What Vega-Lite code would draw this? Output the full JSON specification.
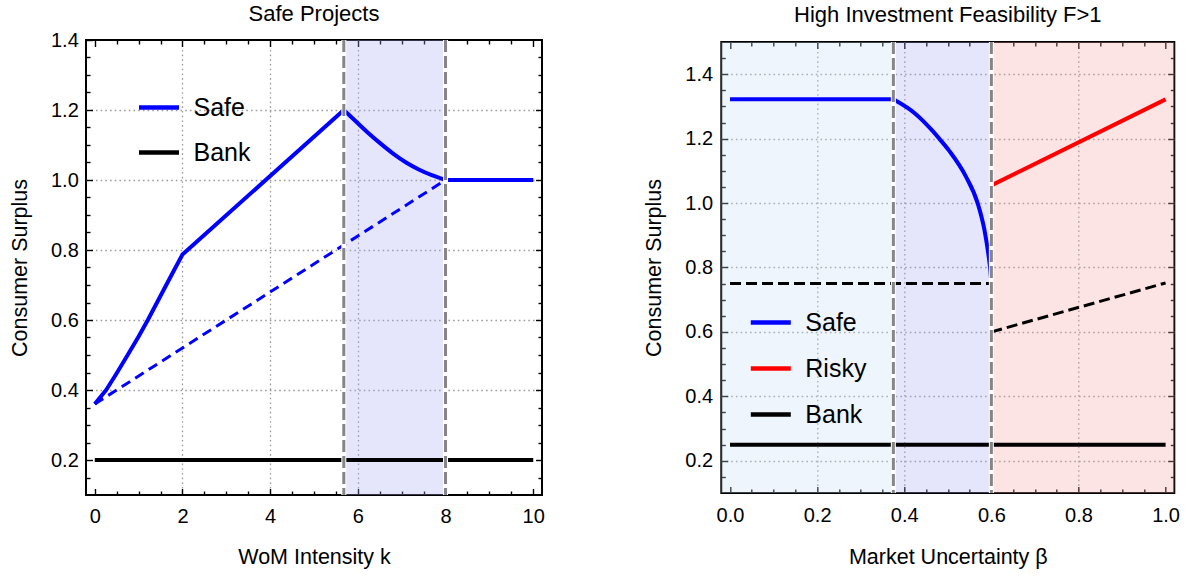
{
  "$schema": "https://vega.github.io/schema/vega-lite/v6.json",
  "background": "white",
  "padding": {"left": 8, "top": 2, "right": 5, "bottom": 5},
  "spacing": 179.3,
  "bounds": "flush",
  "center": true,
  "resolve": {"scale": {"color": "independent"}, "legend": {"color": "independent"}},
  "config": {
    "font": "Liberation Sans",
    "view": {"stroke": "#000000", "strokeWidth": 2},
    "axis": {
      "domain": false,
      "labelFont": "Liberation Sans",
      "labelFontSize": 20,
      "labelColor": "#000000",
      "titleFont": "Liberation Sans",
      "titleFontSize": 21.5,
      "titleFontWeight": "normal",
      "titleColor": "#000000",
      "tickColor": "#000000",
      "tickWidth": 1.4,
      "gridColor": "#9c9c9c",
      "gridDash": [1.6, 3.1],
      "gridWidth": 1.3
    },
    "title": {"font": "Liberation Sans", "fontSize": 22, "fontWeight": "normal", "color": "#000000", "anchor": "middle", "frame": "group"},
    "legend": {"labelFont": "Liberation Sans", "labelColor": "#000000"}
  },
  "hconcat": [
    {
      "width": 456,
      "height": 455,
      "title": {"text": "Safe Projects", "offset": 3.7},
      "resolve": {"axis": {"x": "independent", "y": "independent"}},
      "layer": [
        {
          "data": {"values": [{"k_start": 5.68, "k_end": 8}]},
          "mark": {"type": "rect", "color": "#a8a8f2", "opacity": 0.3},
          "encoding": {
            "x": {"field": "k_start", "type": "quantitative", "axis": null, "scale": {"domain": [-0.2, 10.2], "nice": false, "zero": false}},
            "x2": {"field": "k_end"}
          }
        },
        {
          "data": {"values": [{"k": 0, "cs": 0.36}, {"k": 8, "cs": 1.0}]},
          "mark": {"type": "line", "color": "#0000ff", "strokeWidth": 3, "strokeDash": [10, 6]},
          "encoding": {
            "x": {"field": "k", "type": "quantitative", "axis": {"orient": "top", "values": [0, 2, 4, 6, 8, 10], "tickSize": -6.5, "labels": false, "title": null, "grid": false}},
            "y": {"field": "cs", "type": "quantitative", "scale": {"domain": [0.1, 1.4], "nice": false, "zero": false}, "axis": {"orient": "right", "values": [0.2, 0.4, 0.6, 0.8, 1.0, 1.2], "tickSize": -6.5, "labels": false, "title": null, "grid": false}}
          }
        },
        {
          "data": {"values": [{"k": 0, "cs": 0.2, "series": "Bank"}, {"k": 10, "cs": 0.2, "series": "Bank"}]},
          "mark": {"type": "line", "strokeWidth": 4},
          "encoding": {
            "x": {"field": "k", "type": "quantitative", "axis": {"orient": "top", "values": [0.5, 1, 1.5, 2.5, 3, 3.5, 4.5, 5, 5.5, 6.5, 7, 7.5, 8.5, 9, 9.5], "tickSize": -4, "labels": false, "title": null, "grid": false}},
            "y": {"field": "cs", "type": "quantitative", "axis": {"orient": "right", "values": [0.15, 0.25, 0.3, 0.35, 0.45, 0.5, 0.55, 0.65, 0.7, 0.75, 0.85, 0.9, 0.95, 1.05, 1.1, 1.15, 1.25, 1.3, 1.35], "tickSize": -4, "labels": false, "title": null, "grid": false}},
            "color": {"field": "series", "type": "nominal", "scale": {"domain": ["Safe", "Bank"], "range": ["#0000ff", "#000000"]}, "legend": {"orient": "none", "legendX": 50.5, "legendY": 45, "title": null, "symbolType": "stroke", "symbolSize": 1600, "symbolStrokeWidth": 4.5, "labelFontSize": 25, "labelOffset": 12, "rowPadding": 9}}
          }
        },
        {
          "data": {"values": [
            {"k": 0, "cs": 0.36, "series": "Safe"},
            {"k": 0.26, "cs": 0.4, "series": "Safe"},
            {"k": 0.5, "cs": 0.448, "series": "Safe"},
            {"k": 0.75, "cs": 0.5, "series": "Safe"},
            {"k": 1.0, "cs": 0.553, "series": "Safe"},
            {"k": 1.21, "cs": 0.6, "series": "Safe"},
            {"k": 1.42, "cs": 0.65, "series": "Safe"},
            {"k": 1.63, "cs": 0.7, "series": "Safe"},
            {"k": 1.82, "cs": 0.745, "series": "Safe"},
            {"k": 2.0, "cs": 0.787, "series": "Safe"},
            {"k": 5.68, "cs": 1.2, "series": "Safe"}
          ]},
          "mark": {"type": "line", "strokeWidth": 4, "strokeJoin": "round"},
          "encoding": {
            "x": {"field": "k", "type": "quantitative", "axis": {"orient": "bottom", "values": [0, 2, 4, 6, 8, 10], "format": "d", "tickSize": -6.5, "labelPadding": 17.5, "title": "WoM Intensity k", "titleX": 228, "titleY": 62.5, "titleBaseline": "middle", "grid": true, "gridOpacity": {"condition": {"test": "datum.value < 1 || datum.value > 7", "value": 0}, "value": 1}}},
            "y": {"field": "cs", "type": "quantitative", "axis": {"orient": "left", "values": [0.2, 0.4, 0.6, 0.8, 1.0, 1.2, 1.4], "format": ".1f", "tickSize": -6.5, "labelPadding": 14.2, "title": "Consumer Surplus", "titleX": -66, "titleY": 227.5, "titleBaseline": "middle", "grid": true, "gridOpacity": {"condition": {"test": "datum.value < 0.3 || datum.value > 1.3", "value": 0}, "value": 1}}},
            "color": {"field": "series", "type": "nominal", "scale": {"domain": ["Safe", "Bank"], "range": ["#0000ff", "#000000"]}, "legend": {"orient": "none", "legendX": 50.5, "legendY": 45, "title": null, "symbolType": "stroke", "symbolSize": 1600, "symbolStrokeWidth": 4.5, "labelFontSize": 25, "labelOffset": 12, "rowPadding": 9}}
          }
        },
        {
          "data": {"values": [
            {"k": 5.68, "cs": 1.2, "series": "Safe"},
            {"k": 6.0, "cs": 1.162, "series": "Safe"},
            {"k": 6.25, "cs": 1.133, "series": "Safe"},
            {"k": 6.5, "cs": 1.106, "series": "Safe"},
            {"k": 6.82, "cs": 1.074, "series": "Safe"},
            {"k": 7.1, "cs": 1.05, "series": "Safe"},
            {"k": 7.39, "cs": 1.03, "series": "Safe"},
            {"k": 7.7, "cs": 1.013, "series": "Safe"},
            {"k": 7.96, "cs": 1.002, "series": "Safe"},
            {"k": 8.0, "cs": 1.0, "series": "Safe"},
            {"k": 10.0, "cs": 1.0, "series": "Safe"}
          ]},
          "mark": {"type": "line", "strokeWidth": 4, "strokeJoin": "round", "interpolate": "monotone"},
          "encoding": {
            "x": {"field": "k", "type": "quantitative", "axis": {"orient": "bottom", "values": [0.5, 1, 1.5, 2.5, 3, 3.5, 4.5, 5, 5.5, 6.5, 7, 7.5, 8.5, 9, 9.5], "tickSize": -4, "labels": false, "title": null, "grid": false}},
            "y": {"field": "cs", "type": "quantitative", "axis": {"orient": "left", "values": [0.15, 0.25, 0.3, 0.35, 0.45, 0.5, 0.55, 0.65, 0.7, 0.75, 0.85, 0.9, 0.95, 1.05, 1.1, 1.15, 1.25, 1.3, 1.35], "tickSize": -4, "labels": false, "title": null, "grid": false}},
            "color": {"field": "series", "type": "nominal", "scale": {"domain": ["Safe", "Bank"], "range": ["#0000ff", "#000000"]}, "legend": {"orient": "none", "legendX": 50.5, "legendY": 45, "title": null, "symbolType": "stroke", "symbolSize": 1600, "symbolStrokeWidth": 4.5, "labelFontSize": 25, "labelOffset": 12, "rowPadding": 9}}
          }
        },
        {
          "data": {"values": [{"k": 5.68}, {"k": 8}]},
          "mark": {"type": "rule", "color": "#ffffff", "strokeWidth": 5},
          "encoding": {"x": {"field": "k", "type": "quantitative", "axis": null}}
        },
        {
          "data": {"values": [{"k": 5.68}, {"k": 8}]},
          "mark": {"type": "rule", "color": "#858585", "strokeWidth": 3, "strokeDash": [12, 4]},
          "encoding": {"x": {"field": "k", "type": "quantitative", "axis": null}}
        }
      ]
    },
    {
      "width": 453,
      "height": 451,
      "title": {"text": "High Investment Feasibility F>1", "offset": 13},
      "resolve": {"axis": {"x": "independent", "y": "independent"}},
      "layer": [
        {
          "data": {"values": [
            {"b_start": -0.02, "b_end": 0.375, "zone": "safe only"},
            {"b_start": 0.375, "b_end": 0.6, "zone": "safe constrained"},
            {"b_start": 0.6, "b_end": 1.02, "zone": "risky"}
          ]},
          "mark": {"type": "rect", "opacity": 0.3},
          "encoding": {
            "x": {"field": "b_start", "type": "quantitative", "axis": null, "scale": {"domain": [-0.02, 1.02], "nice": false, "zero": false}},
            "x2": {"field": "b_end"},
            "fill": {"field": "zone", "type": "nominal", "scale": {"domain": ["safe only", "safe constrained", "risky"], "range": ["#c8ddfa", "#a8a8f2", "#f8a5a5"]}, "legend": null}
          }
        },
        {
          "data": {"values": [
            {"beta": 0, "cs": 0.75, "seg": "a"},
            {"beta": 0.6, "cs": 0.75, "seg": "a"},
            {"beta": 0.6, "cs": 0.6, "seg": "b"},
            {"beta": 1.0, "cs": 0.752, "seg": "b"}
          ]},
          "mark": {"type": "line", "color": "#000000", "strokeWidth": 3, "strokeDash": [11, 5]},
          "encoding": {
            "x": {"field": "beta", "type": "quantitative", "axis": {"orient": "top", "values": [0.05, 0.1, 0.15, 0.25, 0.3, 0.35, 0.45, 0.5, 0.55, 0.65, 0.7, 0.75, 0.85, 0.9, 0.95], "tickSize": -4, "labels": false, "title": null, "grid": false}},
            "y": {"field": "cs", "type": "quantitative", "scale": {"domain": [0.1, 1.5], "nice": false, "zero": false}, "axis": {"orient": "right", "values": [0.15, 0.25, 0.3, 0.35, 0.45, 0.5, 0.55, 0.65, 0.7, 0.75, 0.85, 0.9, 0.95, 1.05, 1.1, 1.15, 1.25, 1.3, 1.35, 1.45], "tickSize": -4, "labels": false, "title": null, "grid": false}},
            "detail": {"field": "seg"}
          }
        },
        {
          "data": {"values": [{"beta": 0, "cs": 0.25, "series": "Bank"}, {"beta": 1.0, "cs": 0.25, "series": "Bank"}]},
          "mark": {"type": "line", "strokeWidth": 4},
          "encoding": {
            "x": {"field": "beta", "type": "quantitative", "axis": {"orient": "top", "values": [0, 0.2, 0.4, 0.6, 0.8, 1.0], "tickSize": -6.5, "labels": false, "title": null, "grid": false}},
            "y": {"field": "cs", "type": "quantitative", "axis": {"orient": "right", "values": [0.2, 0.4, 0.6, 0.8, 1.0, 1.2, 1.4], "tickSize": -6.5, "labels": false, "title": null, "grid": false}},
            "color": {"field": "series", "type": "nominal", "scale": {"domain": ["Safe", "Risky", "Bank"], "range": ["#0000ff", "#ff0000", "#000000"]}, "legend": {"orient": "none", "legendX": 27, "legendY": 258, "title": null, "symbolType": "stroke", "symbolSize": 1600, "symbolStrokeWidth": 4.5, "labelFontSize": 25, "labelOffset": 12, "rowPadding": 10}}
          }
        },
        {
          "data": {"values": [{"beta": 0.6, "cs": 1.055, "series": "Risky"}, {"beta": 1.0, "cs": 1.322, "series": "Risky"}]},
          "mark": {"type": "line", "strokeWidth": 4},
          "encoding": {
            "x": {"field": "beta", "type": "quantitative", "axis": {"orient": "bottom", "values": [0.05, 0.1, 0.15, 0.25, 0.3, 0.35, 0.45, 0.5, 0.55, 0.65, 0.7, 0.75, 0.85, 0.9, 0.95], "tickSize": -4, "labels": false, "title": null, "grid": false}},
            "y": {"field": "cs", "type": "quantitative", "axis": {"orient": "left", "values": [0.15, 0.25, 0.3, 0.35, 0.45, 0.5, 0.55, 0.65, 0.7, 0.75, 0.85, 0.9, 0.95, 1.05, 1.1, 1.15, 1.25, 1.3, 1.35, 1.45], "tickSize": -4, "labels": false, "title": null, "grid": false}},
            "color": {"field": "series", "type": "nominal", "scale": {"domain": ["Safe", "Risky", "Bank"], "range": ["#0000ff", "#ff0000", "#000000"]}, "legend": {"orient": "none", "legendX": 27, "legendY": 258, "title": null, "symbolType": "stroke", "symbolSize": 1600, "symbolStrokeWidth": 4.5, "labelFontSize": 25, "labelOffset": 12, "rowPadding": 10}}
          }
        },
        {
          "data": {"values": [
            {"beta": 0.375, "cs": 1.322, "series": "Safe"},
            {"beta": 0.4267, "cs": 1.276, "series": "Safe"},
            {"beta": 0.4651, "cs": 1.224, "series": "Safe"},
            {"beta": 0.4804, "cs": 1.2, "series": "Safe"},
            {"beta": 0.5034, "cs": 1.162, "series": "Safe"},
            {"beta": 0.5417, "cs": 1.082, "series": "Safe"},
            {"beta": 0.5685, "cs": 1.0, "series": "Safe"},
            {"beta": 0.5839, "cs": 0.918, "series": "Safe"},
            {"beta": 0.5938, "cs": 0.835, "series": "Safe"},
            {"beta": 0.597, "cs": 0.8, "series": "Safe"},
            {"beta": 0.6, "cs": 0.75, "series": "Safe"}
          ]},
          "mark": {"type": "line", "strokeWidth": 4, "strokeJoin": "round", "interpolate": "monotone"},
          "encoding": {
            "x": {"field": "beta", "type": "quantitative", "axis": {"orient": "bottom", "values": [0, 0.2, 0.4, 0.6, 0.8, 1.0], "format": ".1f", "tickSize": -6.5, "labelPadding": 19, "title": "Market Uncertainty β", "titleX": 226.5, "titleY": 64.5, "titleBaseline": "middle", "grid": true, "gridOpacity": {"condition": {"test": "datum.value < 0.1 || (datum.value > 0.5 && datum.value < 0.7) || datum.value > 0.9", "value": 0}, "value": 1}}},
            "y": {"field": "cs", "type": "quantitative", "axis": {"orient": "left", "values": [0.2, 0.4, 0.6, 0.8, 1.0, 1.2, 1.4], "format": ".1f", "tickSize": -6.5, "labelPadding": 15.2, "title": "Consumer Surplus", "titleX": -66.8, "titleY": 225.5, "titleBaseline": "middle", "grid": true}},
            "color": {"field": "series", "type": "nominal", "scale": {"domain": ["Safe", "Risky", "Bank"], "range": ["#0000ff", "#ff0000", "#000000"]}, "legend": {"orient": "none", "legendX": 27, "legendY": 258, "title": null, "symbolType": "stroke", "symbolSize": 1600, "symbolStrokeWidth": 4.5, "labelFontSize": 25, "labelOffset": 12, "rowPadding": 10}}
          }
        },
        {
          "data": {"values": [{"beta": 0, "cs": 1.322, "series": "Safe"}, {"beta": 0.375, "cs": 1.322, "series": "Safe"}]},
          "mark": {"type": "line", "strokeWidth": 4},
          "encoding": {
            "x": {"field": "beta", "type": "quantitative", "axis": null},
            "y": {"field": "cs", "type": "quantitative", "axis": null},
            "color": {"field": "series", "type": "nominal", "scale": {"domain": ["Safe", "Risky", "Bank"], "range": ["#0000ff", "#ff0000", "#000000"]}, "legend": {"orient": "none", "legendX": 27, "legendY": 258, "title": null, "symbolType": "stroke", "symbolSize": 1600, "symbolStrokeWidth": 4.5, "labelFontSize": 25, "labelOffset": 12, "rowPadding": 10}}
          }
        },
        {
          "data": {"values": [{"beta": 0.375}, {"beta": 0.6}]},
          "mark": {"type": "rule", "color": "#ffffff", "strokeWidth": 5},
          "encoding": {"x": {"field": "beta", "type": "quantitative", "axis": null}}
        },
        {
          "data": {"values": [{"beta": 0.375}, {"beta": 0.6}]},
          "mark": {"type": "rule", "color": "#858585", "strokeWidth": 3, "strokeDash": [12, 4]},
          "encoding": {"x": {"field": "beta", "type": "quantitative", "axis": null}}
        }
      ]
    }
  ]
}
